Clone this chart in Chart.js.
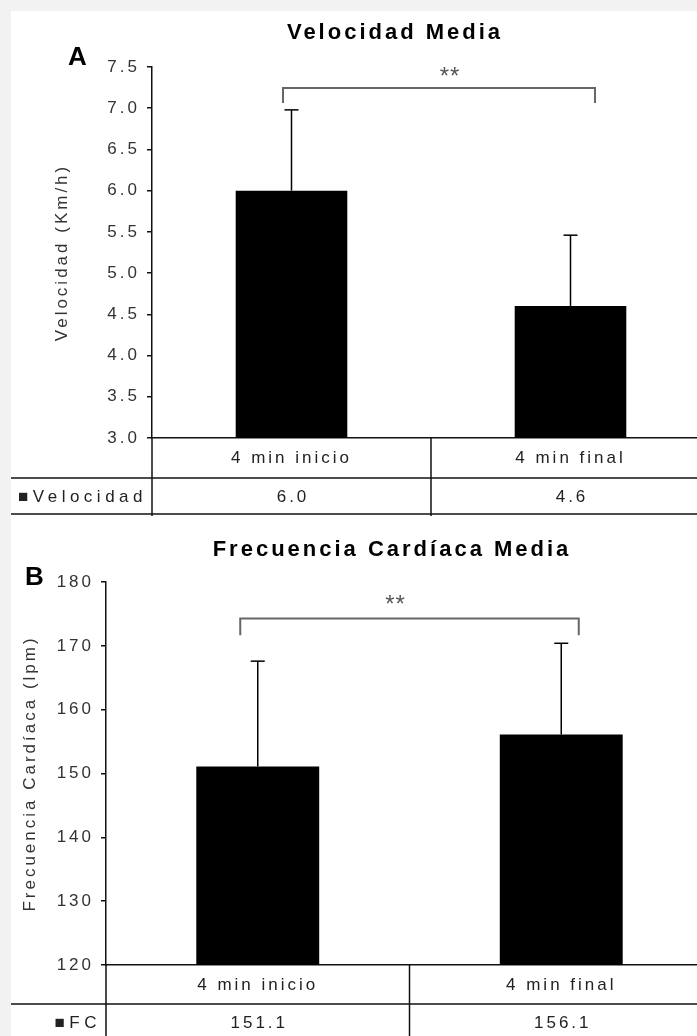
<!DOCTYPE html>
<html>
<head>
<meta charset="utf-8">
<script src="https://cdn.jsdelivr.net/npm/chart.js@4.4.0/dist/chart.umd.min.js"></script>
<style>
  html, body { margin: 0; padding: 0; background: #f2f2f2; overflow: hidden; width: 697px; height: 1036px; }
  #sheet { position: absolute; left: 11px; top: 11px; width: 686px; height: 1025px; background: #fff; overflow: hidden; }
  #chartA { position: absolute; left: 0; top: 0; }
  #chartB { position: absolute; left: 0; top: 507px; }
</style>
</head>
<body>
<div id="sheet">
  <canvas id="chartA" width="700" height="507"></canvas>
  <canvas id="chartB" width="703" height="530"></canvas>
</div>
<script>
// data
const categories = ['4 min inicio', '4 min final']
const velocidad = [6.0, 4.6]
const velocidadSD = [0.98, 0.86]
const fc = [151.1, 156.1]
const fcSD = [16.5, 14.3]
const velTicks = [3.0, 3.5, 4.0, 4.5, 5.0, 5.5, 6.0, 6.5, 7.0, 7.5]
const fcTicks = [120, 130, 140, 150, 160, 170, 180]

const FAMILY = "'Liberation Sans', Arial, sans-serif"
const SPACING = '3px'

function line(ctx, x1, y1, x2, y2) {
    ctx.beginPath()
    ctx.moveTo(x1, y1)
    ctx.lineTo(x2, y2)
    ctx.stroke()
}

// error bars, table under the axis, bracket with stars, title + panel letter
function panelPlugin(p) {
    return {
        id: 'panel' + p.letter,
        beforeUpdate(chart) { chart.ctx.letterSpacing = SPACING },
        beforeDraw(chart) { chart.ctx.letterSpacing = SPACING },
        afterDatasetsDraw(chart) {
            const ctx = chart.ctx
            const meta = chart.getDatasetMeta(0)
            const y = chart.scales.y
            ctx.save()
            ctx.strokeStyle = '#000'
            ctx.lineWidth = 1.5
            p.values.forEach((v, i) => {
                const bar = meta.data[i]
                const top = y.getPixelForValue(v + p.sd[i])
                line(ctx, bar.x, bar.y, bar.x, top)
                line(ctx, bar.x - 7, top, bar.x + 7, top)
            })
            ctx.restore()
        },
        afterDraw(chart) {
            const ctx = chart.ctx
            const ca = chart.chartArea
            const x = chart.scales.x
            const y = chart.scales.y
            const row1 = ca.bottom + p.row1H
            const row2 = row1 + p.row2H
            ctx.save()
            ctx.letterSpacing = SPACING
            ctx.strokeStyle = '#111'
            ctx.lineWidth = 1.5
            line(ctx, 0, row1, chart.width, row1)
            line(ctx, 0, row2, chart.width, row2)
            line(ctx, ca.left, ca.bottom, ca.left, row2 + 2)
            for (let i = 1; i < categories.length; i++) {
                const bx = (x.getPixelForValue(i - 1) + x.getPixelForValue(i)) / 2
                line(ctx, bx, ca.bottom, bx, row2 + 2)
            }

            ctx.fillStyle = '#222'
            ctx.font = '17px ' + FAMILY
            ctx.textBaseline = 'middle'
            ctx.textAlign = 'center'
            const mid = (row1 + row2) / 2 + 1
            p.values.forEach((v, i) => {
                ctx.fillText(v.toFixed(1), x.getPixelForValue(i) + 1.5, mid)
            })
            ctx.textAlign = 'right'
            ctx.letterSpacing = '4.5px'
            ctx.fillText('\u25A0' + p.rowLabel, ca.left - 5, mid)

            // significance bracket
            const bx1 = x.getPixelForValue(0) + p.bracketDx[0]
            const bx2 = x.getPixelForValue(1) + p.bracketDx[1]
            const by = y.getPixelForValue(p.bracketTop)
            const byl = y.getPixelForValue(p.bracketLeg)
            ctx.strokeStyle = '#666'
            ctx.lineWidth = 2
            ctx.beginPath()
            ctx.moveTo(bx1, byl)
            ctx.lineTo(bx1, by)
            ctx.lineTo(bx2, by)
            ctx.lineTo(bx2, byl)
            ctx.stroke()
            ctx.fillStyle = '#555'
            ctx.font = '24px ' + FAMILY
            ctx.textAlign = 'center'
            ctx.textBaseline = 'alphabetic'
            ctx.letterSpacing = '1px'
            ctx.fillText('**', (bx1 + bx2) / 2 + p.starDx, by + p.starDy)

            // chart title
            ctx.fillStyle = '#000'
            ctx.font = 'bold 22px ' + FAMILY
            ctx.textBaseline = 'middle'
            ctx.letterSpacing = SPACING
            ctx.fillText(p.title, p.titleX, p.titleY)

            ctx.font = 'bold 26px ' + FAMILY
            ctx.textAlign = 'left'
            ctx.textBaseline = 'alphabetic'
            ctx.letterSpacing = '0px'
            ctx.fillText(p.letter, p.letterX, p.letterY)
            ctx.restore()
        }
    }
}

function makeChart(id, p) {
    const font = { family: FAMILY, size: 17 }
    return new Chart(document.getElementById(id), {
        type: 'bar',
        data: {
            labels: categories,
            datasets: [{
                data: p.values,
                backgroundColor: '#000',
                borderWidth: 0,
                barPercentage: p.barPct,
                categoryPercentage: 1
            }]
        },
        options: {
            responsive: false,
            animation: false,
            layout: { padding: { left: 0, right: 1, top: p.padTop, bottom: p.padBottom } },
            plugins: {
                legend: { display: false },
                tooltip: { enabled: false },
                title: { display: false }
            },
            scales: {
                x: {
                    afterFit: s => { s.height = p.row1H + p.row2H },
                    grid: { display: false, drawTicks: false },
                    border: { color: '#111', width: 1.5 },
                    ticks: { padding: 10, color: '#222', font: font }
                },
                y: {
                    min: p.ticks[0],
                    max: p.ticks[p.ticks.length - 1],
                    afterBuildTicks: s => { s.ticks = p.ticks.map(v => ({ value: v })) },
                    afterFit: s => { s.width = p.yWidth },
                    border: { color: '#111', width: 1.5 },
                    grid: { drawOnChartArea: false, drawTicks: true, tickLength: 5, color: '#111', lineWidth: 1.5 },
                    ticks: { padding: 7, color: '#333', font: font, callback: v => v.toFixed(p.decimals) },
                    title: {
                        display: true,
                        text: p.yTitle,
                        color: '#333',
                        font: font,
                        padding: { top: p.yTitlePad, bottom: 0 }
                    }
                }
            }
        },
        plugins: [panelPlugin(p)]
    })
}

makeChart('chartA', {
    letter: 'A', letterX: 57, letterY: 54,
    title: 'Velocidad Media', titleX: 384, titleY: 22, padTop: 56,
    yTitle: 'Velocidad (Km/h)', yTitlePad: 40.8, yWidth: 141,
    values: velocidad, sd: velocidadSD, ticks: velTicks, decimals: 1,
    rowLabel: 'Velocidad', row1H: 40, row2H: 36,
    barPct: 0.4, padBottom: 4,
    bracketDx: [-8.5, 24.5], bracketTop: 7.245, bracketLeg: 7.064,
    starDx: 11, starDy: -4
})

makeChart('chartB', {
    letter: 'B', letterX: 14, letterY: 67,
    title: 'Frecuencia Cardíaca Media', titleX: 381, titleY: 32, padTop: 64,
    yTitle: 'Frecuencia Cardíaca (lpm)', yTitlePad: 8.8, yWidth: 95,
    values: fc, sd: fcSD, ticks: fcTicks, decimals: 0,
    rowLabel: 'FC', row1H: 39, row2H: 37,
    barPct: 0.405, padBottom: 7,
    bracketDx: [-17.5, 17.5], bracketTop: 174.3, bracketLeg: 171.65,
    starDx: -14, starDy: -6
})
</script>
</body>
</html>
